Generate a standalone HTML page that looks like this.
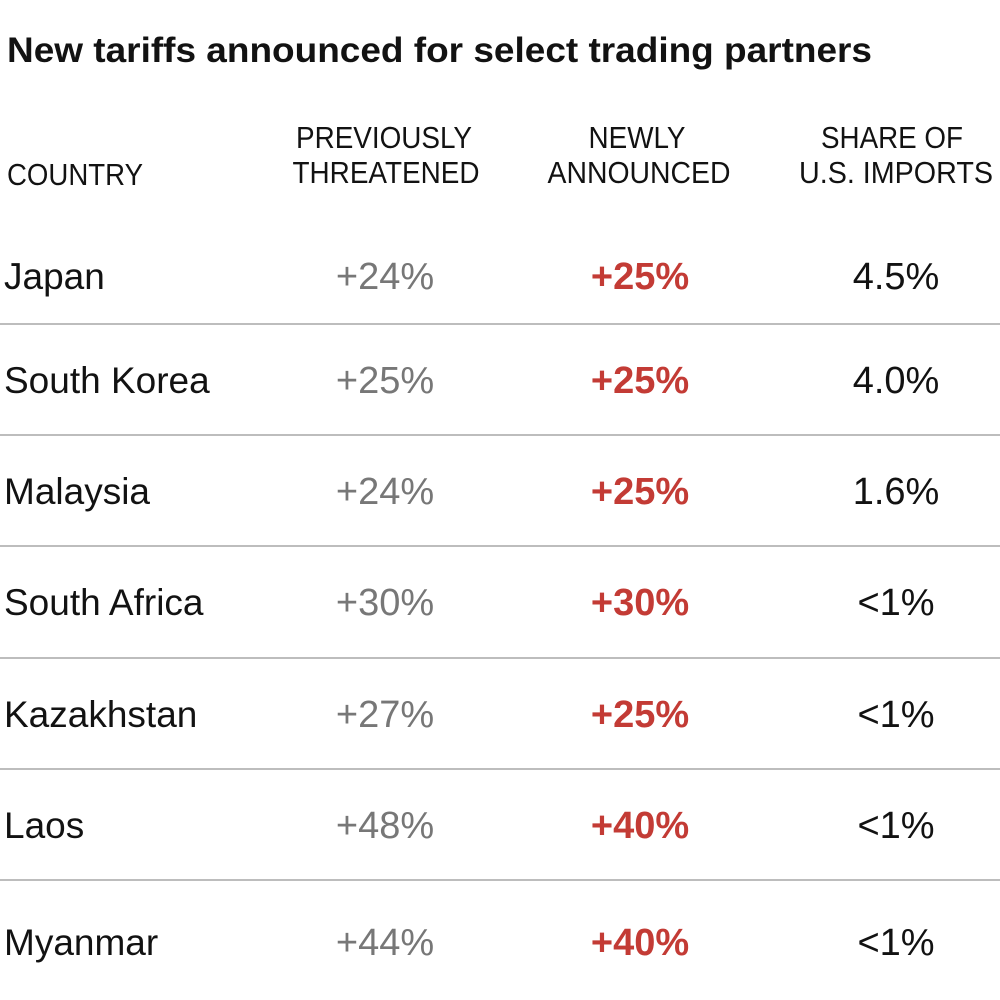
<!DOCTYPE html>
<html><head><meta charset="utf-8"><style>
html,body{margin:0;padding:0;background:#fff;}
svg{display:block;font-family:"Liberation Sans",sans-serif;}
</style></head><body>
<svg width="1000" height="1000" viewBox="0 0 1000 1000" xmlns="http://www.w3.org/2000/svg">
<text x="7" y="62" font-size="35" font-weight="bold" fill="#121212" textLength="865" lengthAdjust="spacingAndGlyphs">New tariffs announced for select trading partners</text>
<g font-size="31" fill="#121212" text-anchor="middle">
<text x="75" y="185" textLength="136" lengthAdjust="spacingAndGlyphs">COUNTRY</text>
<text x="384" y="148" textLength="176" lengthAdjust="spacingAndGlyphs">PREVIOUSLY</text>
<text x="386" y="183" textLength="187" lengthAdjust="spacingAndGlyphs">THREATENED</text>
<text x="637" y="148" textLength="97" lengthAdjust="spacingAndGlyphs">NEWLY</text>
<text x="639" y="183" textLength="183" lengthAdjust="spacingAndGlyphs">ANNOUNCED</text>
<text x="892" y="148" textLength="142" lengthAdjust="spacingAndGlyphs">SHARE OF</text>
<text x="896" y="183" textLength="194" lengthAdjust="spacingAndGlyphs">U.S. IMPORTS</text>
</g>
<g stroke="#bdbdbd" stroke-width="2">
<line x1="0" y1="324" x2="1000" y2="324"/><line x1="0" y1="435" x2="1000" y2="435"/>
<line x1="0" y1="546" x2="1000" y2="546"/><line x1="0" y1="658" x2="1000" y2="658"/>
<line x1="0" y1="769" x2="1000" y2="769"/><line x1="0" y1="880" x2="1000" y2="880"/>
</g>
<g font-size="37" fill="#121212">
<text x="4" y="289">Japan</text>
<text x="4" y="393">South Korea</text>
<text x="4" y="504">Malaysia</text>
<text x="4" y="615">South Africa</text>
<text x="4" y="727">Kazakhstan</text>
<text x="4" y="838">Laos</text>
<text x="4" y="955">Myanmar</text>
</g>
<g font-size="38" fill="#777" text-anchor="middle">
<text x="385" y="289">+24%</text><text x="385" y="393">+25%</text><text x="385" y="504">+24%</text>
<text x="385" y="615">+30%</text><text x="385" y="727">+27%</text><text x="385" y="838">+48%</text><text x="385" y="955">+44%</text>
</g>
<g font-size="38" font-weight="bold" fill="#c33b35" text-anchor="middle">
<text x="640" y="289">+25%</text><text x="640" y="393">+25%</text><text x="640" y="504">+25%</text>
<text x="640" y="615">+30%</text><text x="640" y="727">+25%</text><text x="640" y="838">+40%</text><text x="640" y="955">+40%</text>
</g>
<g font-size="38" fill="#121212" text-anchor="middle">
<text x="896" y="289">4.5%</text><text x="896" y="393">4.0%</text><text x="896" y="504">1.6%</text>
<text x="896" y="615">&lt;1%</text><text x="896" y="727">&lt;1%</text><text x="896" y="838">&lt;1%</text><text x="896" y="955">&lt;1%</text>
</g>
</svg>
</body></html>
